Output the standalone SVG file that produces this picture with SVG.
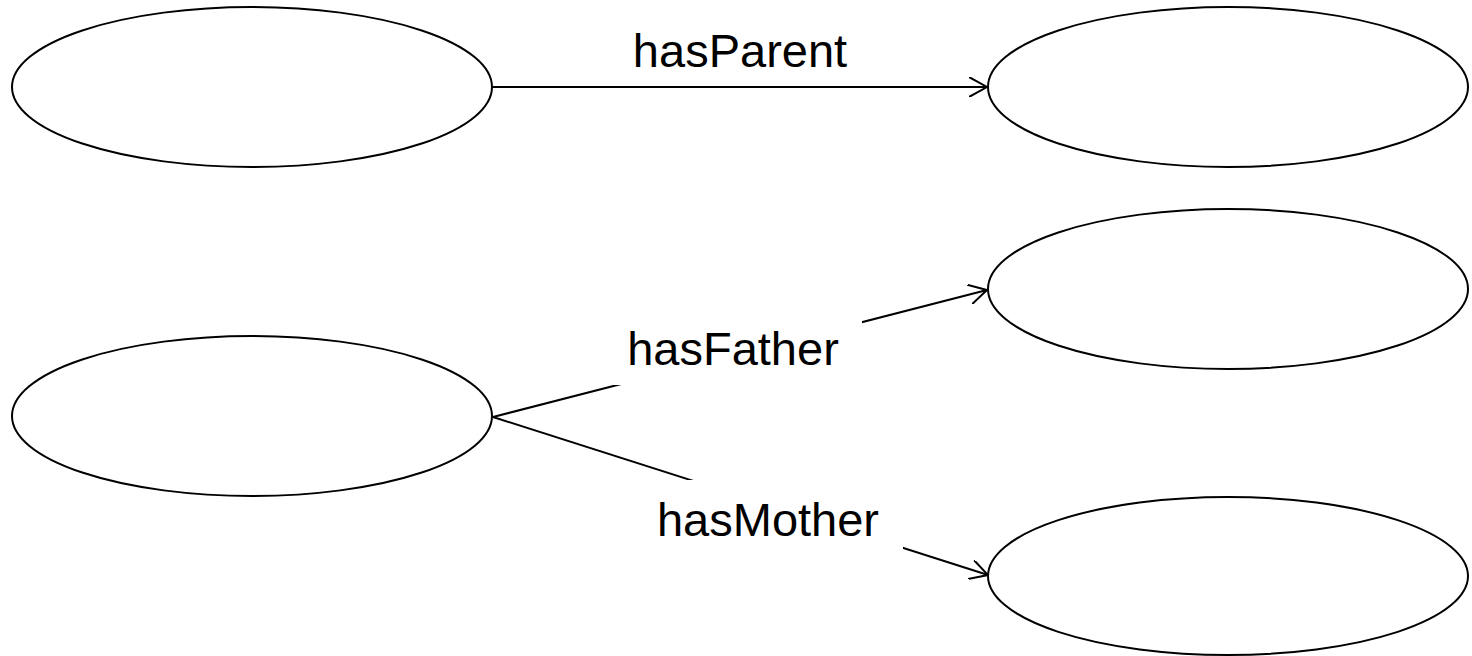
<svg xmlns="http://www.w3.org/2000/svg" width="1472" height="656" viewBox="0 0 1472 656">
<style>
.node{fill:#fff;stroke:#000;stroke-width:2}
.edge{fill:none;stroke:#000;stroke-width:2}
.lbl{font-family:"Liberation Sans",Arial,sans-serif;font-size:47px;fill:#000;text-anchor:middle}
.mask{fill:#fff;stroke:none}
</style>
<defs>
<marker id="arr" viewBox="0 0 20 20" refX="18" refY="10" markerWidth="20" markerHeight="20" markerUnits="userSpaceOnUse" orient="auto">
<path d="M0,0 L18,10 L0,20" fill="none" stroke="#000" stroke-width="2"/>
</marker>
</defs>
<rect width="1472" height="656" fill="#fff"/>
<g id="connectors">
<line class="edge" x1="492" y1="87" x2="987" y2="87" marker-end="url(#arr)"/>
<line class="edge" x1="493" y1="417" x2="987" y2="290" marker-end="url(#arr)"/>
<line class="edge" x1="493" y1="417" x2="988" y2="575" marker-end="url(#arr)"/>
<rect class="mask" x="605" y="318" width="257" height="67"/>
<rect class="mask" x="645" y="480" width="258" height="72"/>
<text class="lbl" x="740" y="67">hasParent</text>
<text class="lbl" x="733" y="365">hasFather</text>
<text class="lbl" x="768" y="536">hasMother</text>
</g>
<g id="node1"><ellipse class="node" cx="252" cy="87" rx="240" ry="80"/></g>
<g id="node2"><ellipse class="node" cx="1228" cy="87" rx="240" ry="80"/></g>
<g id="node3"><ellipse class="node" cx="1228" cy="289" rx="240" ry="80"/></g>
<g id="node4"><ellipse class="node" cx="252" cy="416" rx="240" ry="80"/></g>
<g id="node5"><ellipse class="node" cx="1228" cy="576" rx="240" ry="79"/></g>
</svg>
